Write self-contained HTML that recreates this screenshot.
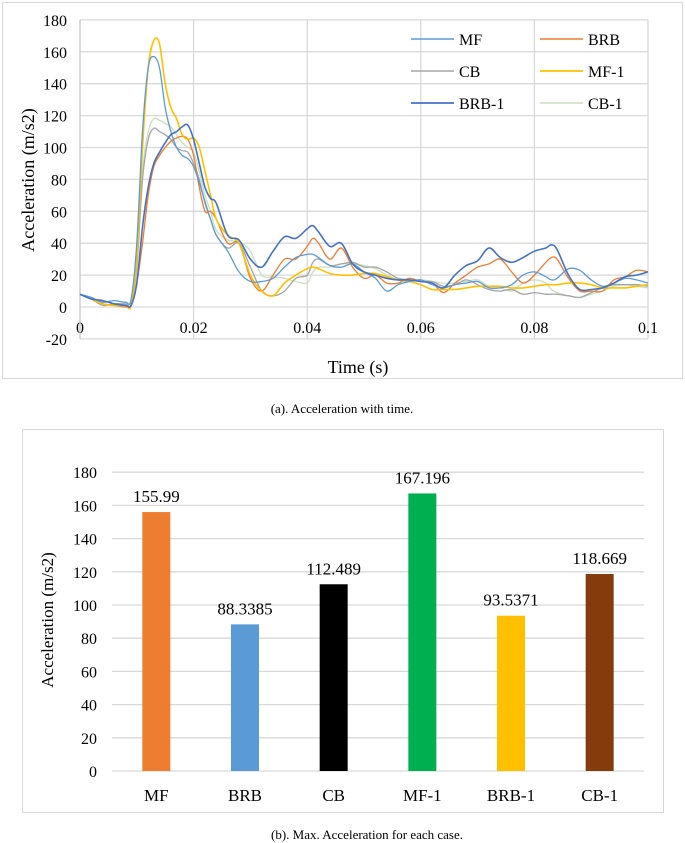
<!DOCTYPE html>
<html><head><meta charset="utf-8"><style>
body{margin:0;background:#fff;width:685px;height:843px;overflow:hidden;font-family:"Liberation Serif",serif}
svg{display:block}
</style></head><body>
<svg id="s" width="685" height="843"></svg>
<script>
const times=[0,2,4,6,8,9,10,11,12,13,14,15,16,17,18,19,20,21,22,23,24,26,28,30,32,34,36,38,40,41,42,44,46,48,50,52,54,56,58,60,62,64,66,68,70,72,74,76,78,80,82,83,84,86,88,90,92,94,96,98,100];
const seriesNames=["MF","BRB","CB","MF-1","BRB-1","CB-1"];
const mfVals=[8,6,3,4,3,5,40,110,150,157,150,125,110,100,95,93,88,78,66,55,45,35,22,16,16,18,25,31,33,33,31,26,25,27,22,18,10,14,16,17,14,12,14,15,16,12,12,14,20,22,19,17,18,24,23,17,13,15,18,17,15];
const brbVals=[8,5,2,1,0,1,15,40,70,88,95,100,104,106,107,105,95,75,60,60,55,40,40,18,10,20,30,30,38,43,40,30,37,25,18,20,15,15,18,16,15,9,15,20,25,27,30,22,15,20,28,31,30,18,10,10,10,17,19,23,22];
const cbVals=[8,5,1,2,2,2,25,80,105,112,110,108,105,100,98,97,90,80,65,55,45,37,40,25,10,7,10,18,20,28,30,26,27,28,25,25,22,18,17,16,16,13,14,17,14,11,10,11,8,9,8,8,8,7,6,9,12,14,14,14,13];
const mf1Vals=[8,5,2,1,1,1,30,100,150,167,165,140,125,118,108,105,106,100,85,70,55,45,40,20,10,7,15,20,24,25,24,21,20,20,21,21,19,17,16,14,11,11,11,12,13,13,13,12,12,13,14,14,14,15,15,14,12,12,12,13,14];
const brb1Vals=[8,5,4,2,1,1,15,50,75,90,97,103,108,110,113,114,105,90,75,68,65,45,42,30,25,35,44,43,49,51,47,38,40,27,22,20,18,17,17,16,15,12,20,26,29,37,31,28,31,35,37,39,36,20,11,11,12,15,19,20,22];
const cb1Vals=[8,5,2,1,1,1,25,85,110,118,117,115,113,108,103,100,97,85,70,60,48,42,41,35,20,19,18,16,15,22,25,25,27,27,26,24,20,17,16,17,16,15,15,16,17,13,12,10,15,17,15,11,9,7,6,8,10,13,14,13,12];
const xTicks=["0","0.02","0.04","0.06","0.08","0.1"];
const yTicks=[-20,0,20,40,60,80,100,120,140,160,180];
const barCats=["MF","BRB","CB","MF-1","BRB-1","CB-1"];
const barVals=[155.99,88.3385,112.489,167.196,93.5371,118.669];
const barLabels=["155.99","88.3385","112.489","167.196","93.5371","118.669"];
const barTicks=[0,20,40,60,80,100,120,140,160,180];

const NS="http://www.w3.org/2000/svg";
const svg=document.getElementById('s');
function mk(tag,attrs,parent,text){const e=document.createElementNS(NS,tag);for(const k in attrs)e.setAttribute(k,attrs[k]);if(text!==undefined)e.textContent=text;(parent||svg).appendChild(e);return e;}

// ---------- Chart A ----------
let e=mk('rect',{x:2.5,y:2.5,width:680,height:376,fill:'#fff',stroke:'#d9d9d9'});

const ax=t=>80+(t/100)*568, ay=v=>307-(v/20)*31.9;
for(const v of yTicks){
  e=mk('line',{x1:80,x2:648,y1:ay(v),y2:ay(v),stroke:'#d9d9d9','stroke-width':1.3});
  
  e=mk('text',{x:67,y:ay(v)+6,'text-anchor':'end','font-size':16,fill:'#000'},svg,String(v));
  
}
xTicks.forEach((l,i)=>{
  const x=ax(i*20);
  e=mk('line',{x1:x,x2:x,y1:ay(180),y2:ay(-20),stroke:'#d9d9d9','stroke-width':1.3});
  
  e=mk('text',{x:x,y:333,'text-anchor':'middle','font-size':16,fill:'#000'},svg,l);
  
});
e=mk('line',{x1:80,x2:80,y1:ay(180),y2:ay(-20),stroke:'#bfbfbf'});
e=mk('text',{x:358,y:373,'text-anchor':'middle','font-size':18},svg,'Time (s)');

e=mk('text',{x:0,y:0,transform:'translate(34,180) rotate(-90)','text-anchor':'middle','font-size':18},svg,'Acceleration (m/s2)');


function smooth(pts){
  let d='M'+pts[0][0]+','+pts[0][1];
  for(let i=0;i<pts.length-1;i++){
    const p0=pts[i-1]||pts[i],p1=pts[i],p2=pts[i+1],p3=pts[i+2]||p2;
    const c1=[p1[0]+(p2[0]-p0[0])/6,p1[1]+(p2[1]-p0[1])/6];
    const c2=[p2[0]-(p3[0]-p1[0])/6,p2[1]-(p3[1]-p1[1])/6];
    d+=' C'+c1[0].toFixed(1)+','+c1[1].toFixed(1)+' '+c2[0].toFixed(1)+','+c2[1].toFixed(1)+' '+p2[0].toFixed(1)+','+p2[1].toFixed(1);
  }
  return d;
}
const allVals=[mfVals,brbVals,cbVals,mf1Vals,brb1Vals,cb1Vals];
const colors=["#5B9BD5","#ED7D31","#A5A5A5","#FFC000","#4472C4","#C9DFBD"];
const widths=[1.3,1.3,1.3,1.6,1.6,1.3];
const drawOrder=[5,2,1,3,0,4];
for(const i of drawOrder){
  const v=allVals[i];const n=Math.min(v.length,times.length);
  const pts=[];for(let k=0;k<n;k++)pts.push([ax(times[k]),ay(v[k])]);
  e=mk('path',{d:smooth(pts),fill:'none',stroke:colors[i],'stroke-width':widths[i]});
  
  
}
// legend
seriesNames.forEach((n,i)=>{
  const col=i%2,row=Math.floor(i/2);
  const lx=col?540:411,ly=39+row*32;
  const g=mk('g',{});
  
  mk('line',{x1:lx,x2:lx+43,y1:ly,y2:ly,stroke:colors[i],'stroke-width':widths[i]+0.2},g);
  mk('text',{x:lx+48,y:ly+6,'font-size':16},g,n);
});
e=mk('text',{x:342,y:413,'text-anchor':'middle','font-size':13},svg,'(a). Acceleration with time.');


// ---------- Chart B ----------
e=mk('rect',{x:22.5,y:429.5,width:641,height:383,fill:'#fff',stroke:'#d9d9d9'});

const by=v=>771-(v/20)*33.2;
const bx=i=>112+(i+0.5)*(532/6);
for(const v of barTicks){
  e=mk('line',{x1:112,x2:644,y1:by(v),y2:by(v),stroke:'#d9d9d9','stroke-width':1.3});
  
  e=mk('text',{x:97,y:by(v)+6,'text-anchor':'end','font-size':16},svg,String(v));
  
}
const barColors=["#ED7D31","#5B9BD5","#000000","#00B050","#FFC000","#843C0C"];
barCats.forEach((c,i)=>{
  const x=bx(i);
  e=mk('rect',{x:x-14,y:by(barVals[i]),width:28,height:by(0)-by(barVals[i]),fill:barColors[i]});
  
  e=mk('text',{x:x,y:by(barVals[i])-10,'text-anchor':'middle','font-size':17},svg,barLabels[i]);
  
  e=mk('text',{x:x,y:801,'text-anchor':'middle','font-size':17},svg,c);
  
});
e=mk('text',{x:0,y:0,transform:'translate(53,620) rotate(-90)','text-anchor':'middle','font-size':17},svg,'Acceleration (m/s2)');

e=mk('text',{x:367,y:839,'text-anchor':'middle','font-size':13},svg,'(b). Max. Acceleration for each case.');

</script>
</body></html>
